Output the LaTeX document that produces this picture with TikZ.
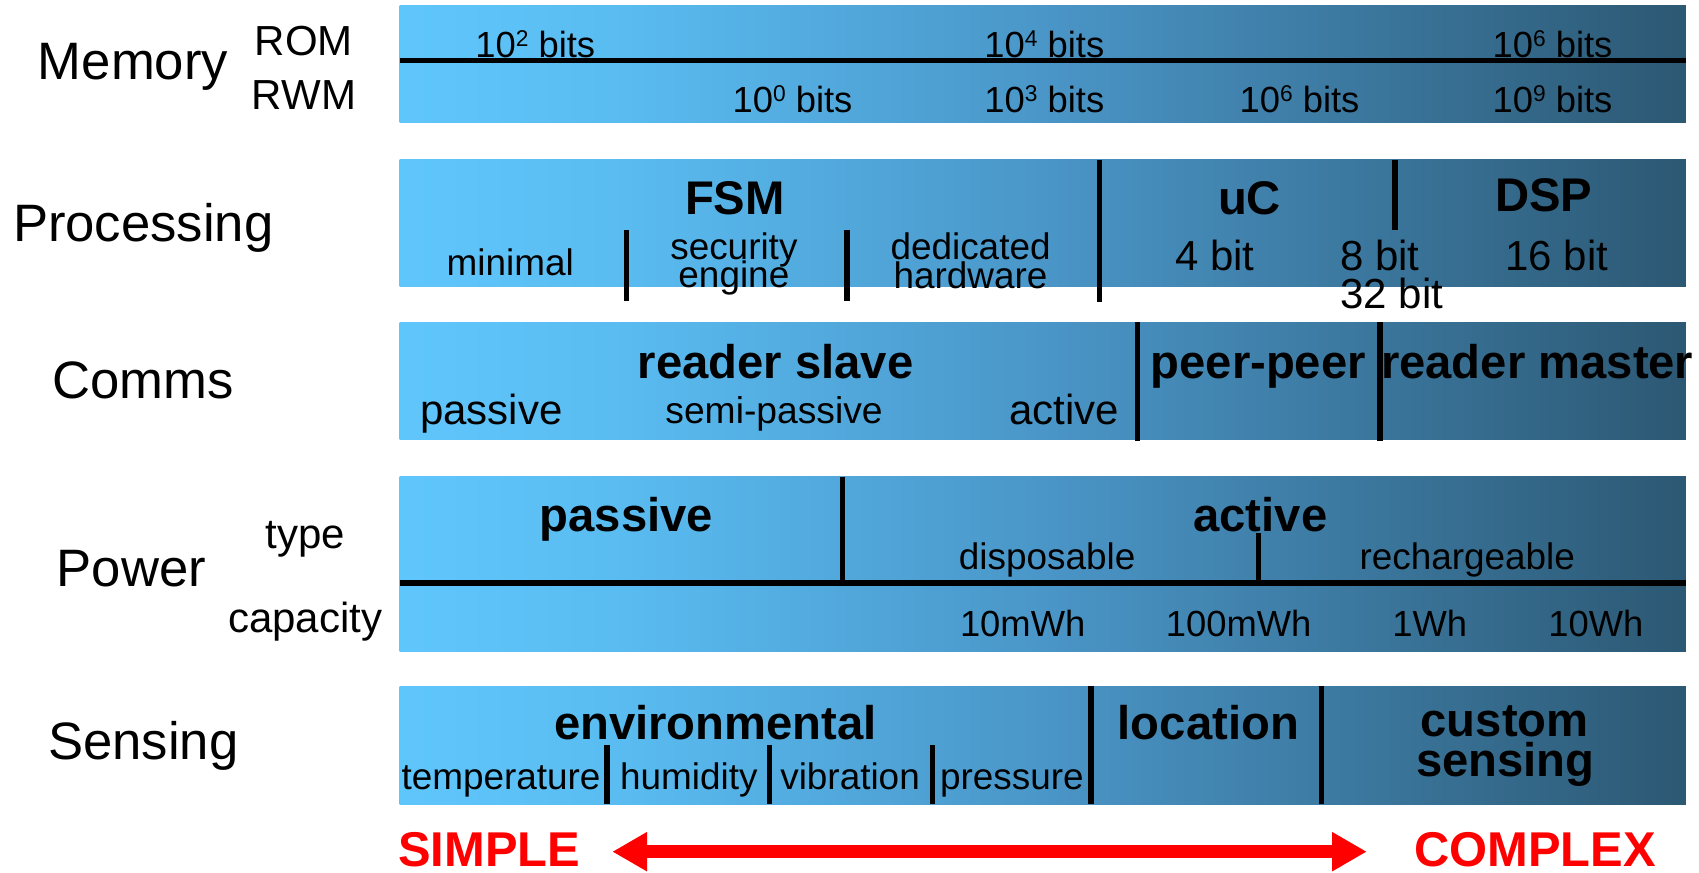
\documentclass[tikz,border=0pt]{standalone}
\usepackage{fontspec}
\setmainfont{Liberation Sans}
\usetikzlibrary{arrows.meta}
\pgfdeclarehorizontalshading{barshade}{100bp}{rgb(0bp)=(0.373,0.776,0.984); rgb(25bp)=(0.373,0.776,0.984); rgb(33bp)=(0.353,0.741,0.949); rgb(50bp)=(0.290,0.588,0.784); rgb(75bp)=(0.173,0.345,0.451); rgb(100bp)=(0.173,0.345,0.451)}
\newcommand\szH{\fontsize{48.5}{50}\selectfont}
\newcommand\szB{\fontsize{43.5}{45}\selectfont\bfseries}
\newcommand\szM{\fontsize{38.7}{40}\selectfont}
\newcommand\szS{\fontsize{34}{36}\selectfont}
\newcommand\szT{\fontsize{33.5}{35}\selectfont}
\newcommand\supx[1]{\raisebox{0.3em}{\fontsize{21}{21}\selectfont #1}}
\definecolor{arrowred}{RGB}{255,0,0}
\tikzset{
  lab/.style={anchor=base, inner sep=0pt, outer sep=0pt},
  bar/.style={shading=barshade},
  divider/.style={line width=5pt, draw=black},
  hline/.style={line width=4.8pt, draw=black},
  bigarrow/.style={draw=arrowred, line width=11.5pt, {Triangle[length=32pt,width=34pt]}-{Triangle[length=32pt,width=34pt]}}
}
\begin{document}
\begin{tikzpicture}[x=1pt,y=-1pt]
\useasboundingbox (0,0) rectangle (1565,804);
% ---------- bars ----------
\shade[bar] (368,5) rectangle (1553,113);
\shade[bar] (368,147) rectangle (1553,264);
\shade[bar] (368,297) rectangle (1553,405);
\shade[bar] (368,439) rectangle (1553,600);
\shade[bar] (368,632) rectangle (1553,741);
% ---------- Memory ----------
\draw[hline] (368,56) -- (1553,56);
\node[lab] (mem) at (122.5,73) {\szH Memory};
\node[lab] (rom) at (280,50.7) {\szM ROM};
\node[lab] (rwm) at (280,100.7) {\szM RWM};
\node[lab] (r2) at (493,52.5) {\szT 10\supx{2} bits};
\node[lab] (r4) at (962,52.5) {\szT 10\supx{4} bits};
\node[lab] (r6) at (1430,52.5) {\szT 10\supx{6} bits};
\node[lab] (w0) at (730,104) {\szT 10\supx{0} bits};
\node[lab] (w3) at (962,104) {\szT 10\supx{3} bits};
\node[lab] (w6) at (1197,104) {\szT 10\supx{6} bits};
\node[lab] (w9) at (1430,104) {\szT 10\supx{9} bits};
% ---------- Processing ----------
\node[lab] (proc) at (132,222.6) {\szH Processing};
\node[lab] (fsm) at (677,198) {\szB FSM};
\node[lab] (uc) at (1151,198) {\szB uC};
\node[lab] (dsp) at (1422,195) {\szB DSP};
\node[lab] (minimal) at (470,254) {\szS minimal};
\node[lab] (sec1) at (676,239) {\szS security};
\node[lab] (sec2) at (676,265) {\szS engine};
\node[lab] (ded1) at (894,239) {\szS dedicated};
\node[lab] (ded2) at (894,265.5) {\szS hardware};
\node[lab] (b4) at (1119,249) {\szM 4 bit};
\node[lab] (b8) at (1271,249) {\szM 8 bit};
\node[lab] (b16) at (1434,249) {\szM 16 bit};
\node[lab] (b32) at (1282,284) {\szM 32 bit};
\draw[divider] (577,212) -- (577,277);
\draw[divider] (780,212) -- (780,277);
\draw[divider] (1013,147) -- (1013,278);
\draw[divider] (1285,147) -- (1285,212);
% ---------- Comms ----------
\node[lab] (comms) at (131.5,366.7) {\szH Comms};
\node[lab] (rslave) at (714.5,349) {\szB reader slave};
\node[lab] (cpass) at (452.5,390.6) {\szM passive};
\node[lab] (csemi) at (713,390) {\fontsize{34.3}{36}\selectfont semi-passive};
\node[lab] (cact) at (980.5,390.6) {\szM active};
\node[lab] (peer) at (1159,349) {\szB peer-peer};
\node[lab] (rmaster) at (1416,349) {\szB reader master};
\draw[divider] (1048,297) -- (1048,406);
\draw[divider] (1271,297) -- (1271,406);
% ---------- Power ----------
\draw[hline] (368,537) -- (1553,537);
\node[lab] (power) at (121,540) {\szH Power};
\node[lab] (ptype) at (281.5,505) {\szM type};
\node[lab] (pcap) at (281,583) {\szM capacity};
\node[lab] (ppass) at (577,489.7) {\szB passive};
\node[lab] (pact) at (1161,489.7) {\szB active};
\node[lab] (pdisp) at (964.5,524.5) {\szS disposable};
\node[lab] (precharge) at (1351.5,524.5) {\szS rechargeable};
\node[lab] (c1) at (942,586.5) {\szT 10mWh};
\node[lab] (c2) at (1141,586.5) {\szT 100mWh};
\node[lab] (c3) at (1317,586.5) {\szT 1Wh};
\node[lab] (c4) at (1470,586.5) {\szT 10Wh};
\draw[divider] (776,439) -- (776,537);
\draw[divider] (1159,491) -- (1159,537);
% ---------- Sensing ----------
\node[lab] (sens) at (132,700) {\szH Sensing};
\node[lab] (env) at (659,681) {\szB environmental};
\node[lab] (temp) at (461.5,727) {\szS temperature};
\node[lab] (hum) at (634.5,727) {\szS humidity};
\node[lab] (vib) at (783,727) {\szS vibration};
\node[lab] (pres) at (932,727) {\szS pressure};
\node[lab] (loc) at (1113,681) {\szB location};
\node[lab] (cust1) at (1386,678) {\szB custom};
\node[lab] (cust2) at (1386.5,715) {\szB sensing};
\draw[divider] (559,686) -- (559,741);
\draw[divider] (709,686) -- (709,741);
\draw[divider] (859,686) -- (859,741);
\draw[divider] (1005,632) -- (1005,741);
\draw[divider] (1217,632) -- (1217,741);
% ---------- bottom arrow ----------
\node[lab, text=arrowred] (simple) at (450.5,798.3) {\fontsize{45}{46}\selectfont\bfseries SIMPLE};
\node[lab, text=arrowred] (complex) at (1414,798.3) {\fontsize{45}{46}\selectfont\bfseries COMPLEX};
\coordinate (arL) at (564,784.5);
\coordinate (arR) at (1259,784.5);
\draw[bigarrow] (arL) -- (arR);
\end{tikzpicture}
\end{document}
